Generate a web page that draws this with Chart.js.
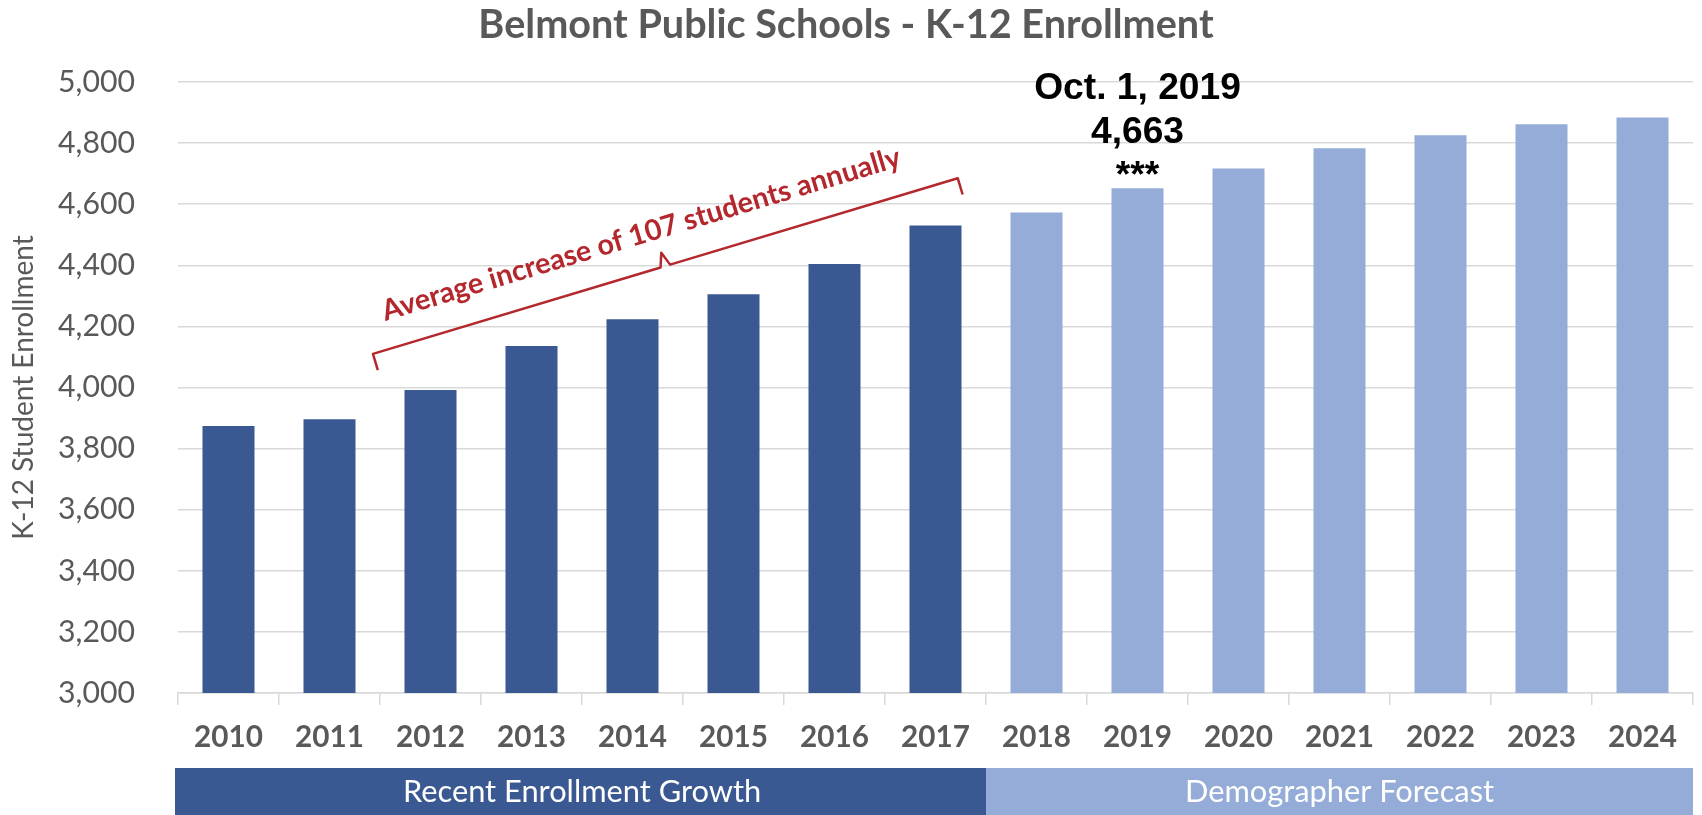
<!DOCTYPE html>
<html>
<head>
<meta charset="utf-8">
<title>Belmont Public Schools - K-12 Enrollment</title>
<script src="https://cdn.jsdelivr.net/npm/chart.js@4.4.1/dist/chart.umd.min.js"></script>
<style>
  html, body { margin: 0; padding: 0; background: #fff; }
  #wrap { width: 1702px; height: 815px; position: relative; }
</style>
</head>
<body>
<div id="wrap"><canvas id="enrollmentChart"></canvas></div>
<script>
const chartTitle = 'Belmont Public Schools - K-12 Enrollment';
const yAxisTitle = 'K-12 Student Enrollment';
const years = ['2010', '2011', '2012', '2013', '2014', '2015', '2016', '2017',
               '2018', '2019', '2020', '2021', '2022', '2023', '2024'];
const enrollment = [3874, 3896, 3992, 4136, 4223, 4305, 4404, 4530,
                    4573, 4652, 4717, 4783, 4826, 4862, 4884];
const lastActualYear = '2017';
const yMin = 3000;
const yMax = 5000;
const yStep = 200;

const bandLabels = ['Recent Enrollment Growth', 'Demographer Forecast'];
const bandFirstYears = ['2010', '2018'];
const bandLastYears = ['2017', '2024'];

const calloutYear = '2019';
const calloutLines = ['Oct. 1, 2019', '4,663', '***'];
const growthNote = 'Average increase of 107 students annually';

const darkBlue = '#3A5892';
const lightBlue = '#94ACD7';
const noteRed = '#B3272D';
const textGray = '#595959';
const gridGray = '#D9D9D9';

// bracket ends, in category index / enrollment units
const bracketStart = [1.43, 4110];
const bracketEnd = [7.22, 4685];

const lastActualIndex = years.indexOf(lastActualYear);
const barColors = years.map((y, i) => i <= lastActualIndex ? darkBlue : lightBlue);
const bandColors = [darkBlue, lightBlue];

// pick a font size so that a sample string comes out at the wanted width
function fitSize(text, weight, family, width) {
    const c = document.createElement('canvas').getContext('2d');
    c.font = weight + ' 100px ' + family;
    return Math.round(1000 * width / c.measureText(text).width) / 10;
}

let fonts = {};

const annotations = {
    id: 'annotations',
    afterDraw(chart) {
        const ctx = chart.ctx;
        const x = chart.scales.x;
        const y = chart.scales.y;
        const half = (x.getPixelForValue(1) - x.getPixelForValue(0)) / 2;
        ctx.save();

        // title
        ctx.fillStyle = textGray;
        ctx.font = 'bold ' + fonts.title + 'px Lato';
        ctx.textAlign = 'center';
        ctx.textBaseline = 'alphabetic';
        ctx.fillText(chartTitle, 846, 38);

        // group bands under the axis
        bandLabels.forEach((label, i) => {
            const left = x.getPixelForValue(years.indexOf(bandFirstYears[i])) - half;
            const right = x.getPixelForValue(years.indexOf(bandLastYears[i])) + half;
            ctx.fillStyle = bandColors[i];
            ctx.fillRect(left - (i === 0 ? 3 : 0), x.bottom, right - left + (i === 0 ? 3 : 0), chart.height - x.bottom);
            ctx.fillStyle = '#ffffff';
            ctx.font = fonts.band + 'px Lato';
            ctx.textBaseline = 'middle';
            ctx.fillText(label, (left + right) / 2, (x.bottom + chart.height) / 2 + 1);
        });

        // red bracket
        const p1 = {x: x.getPixelForValue(bracketStart[0]), y: y.getPixelForValue(bracketStart[1])};
        const p2 = {x: x.getPixelForValue(bracketEnd[0]), y: y.getPixelForValue(bracketEnd[1])};
        const dx = p2.x - p1.x, dy = p2.y - p1.y;
        const len = Math.hypot(dx, dy);
        const ux = dx / len, uy = dy / len;
        const nx = -uy, ny = ux;   // points down
        const mid = {x: (p1.x + p2.x) / 2, y: (p1.y + p2.y) / 2};
        const foot = 17, nub = 14;
        ctx.strokeStyle = noteRed;
        ctx.lineWidth = 2.5;
        ctx.lineJoin = 'round';
        ctx.beginPath();
        ctx.moveTo(p1.x + nx * foot, p1.y + ny * foot);
        ctx.lineTo(p1.x, p1.y);
        ctx.lineTo(mid.x - ux * 5, mid.y - uy * 5);
        ctx.lineTo(mid.x - nx * nub, mid.y - ny * nub);
        ctx.lineTo(mid.x + ux * 5, mid.y + uy * 5);
        ctx.lineTo(p2.x, p2.y);
        ctx.lineTo(p2.x + nx * foot, p2.y + ny * foot);
        ctx.stroke();

        ctx.save();
        ctx.translate(mid.x - nx * 28 - ux * 14, mid.y - ny * 28 - uy * 14);
        ctx.rotate(Math.atan2(dy, dx));
        ctx.fillStyle = noteRed;
        ctx.font = 'bold ' + fonts.note + 'px Lato';
        ctx.textAlign = 'center';
        ctx.textBaseline = 'alphabetic';
        ctx.fillText(growthNote, 0, 0);
        ctx.restore();

        // callout over 2019
        const ci = years.indexOf(calloutYear);
        const cx = x.getPixelForValue(ci);
        const barTop = y.getPixelForValue(enrollment[ci]);
        ctx.fillStyle = '#000000';
        ctx.font = 'bold ' + fonts.callout + 'px "Liberation Sans"';
        ctx.textAlign = 'center';
        ctx.textBaseline = 'alphabetic';
        calloutLines.forEach((t, k) => {
            ctx.fillText(t, cx, barTop - 1 - (calloutLines.length - 1 - k) * 44);
        });

        ctx.restore();
    }
};

function createChart() {
    fonts = {
        title: fitSize(chartTitle, 'bold', 'Lato', 735),
        yTicks: fitSize('5,000', 'normal', 'Lato', 77),
        xTicks: fitSize('2010', 'bold', 'Lato', 69),
        yTitle: fitSize(yAxisTitle, 'normal', 'Lato', 305),
        band: fitSize(bandLabels[0], 'normal', 'Lato', 358),
        note: fitSize(growthNote, 'bold', 'Lato', 540),
        callout: fitSize(calloutLines[0], 'bold', '"Liberation Sans"', 207)
    };

    const ctx = document.getElementById('enrollmentChart').getContext('2d');
    new Chart(ctx, {
        type: 'bar',
        data: {
            labels: years,
            datasets: [{
                label: yAxisTitle,
                data: enrollment,
                backgroundColor: barColors,
                borderWidth: 0,
                barPercentage: 0.515,
                categoryPercentage: 1.0
            }]
        },
        options: {
            responsive: true,
            maintainAspectRatio: false,
            animation: false,
            layout: {
                padding: {top: 82, bottom: 47, left: 0, right: 9}
            },
            plugins: {
                legend: {display: false},
                tooltip: {enabled: false},
                title: {display: false}
            },
            scales: {
                x: {
                    ticks: {
                        color: textGray,
                        padding: 15,
                        font: {family: 'Lato', size: fonts.xTicks, weight: 'bold'}
                    },
                    grid: {
                        drawOnChartArea: false,
                        drawTicks: true,
                        tickLength: 12,
                        color: gridGray,
                        lineWidth: 1.5,
                        offset: true
                    },
                    border: {display: true, color: gridGray, width: 1.5},
                    afterFit: s => { s.height = 75; }
                },
                y: {
                    min: yMin,
                    max: yMax,
                    ticks: {
                        stepSize: yStep,
                        color: textGray,
                        padding: 43,
                        font: {family: 'Lato', size: fonts.yTicks},
                        callback: v => v.toLocaleString('en-US')
                    },
                    grid: {color: gridGray, lineWidth: 1.5, drawTicks: false},
                    border: {display: false},
                    title: {
                        display: true,
                        text: yAxisTitle,
                        color: textGray,
                        font: {family: 'Lato', size: fonts.yTitle},
                        padding: {top: 7, bottom: 0}
                    },
                    afterFit: s => { s.width = 178; }
                }
            }
        },
        plugins: [annotations]
    });
}

Promise.all([
    document.fonts.load('30px Lato'),
    document.fonts.load('bold 30px Lato'),
    document.fonts.load('bold 36px "Liberation Sans"')
]).then(createChart, createChart);
</script>
</body>
</html>
